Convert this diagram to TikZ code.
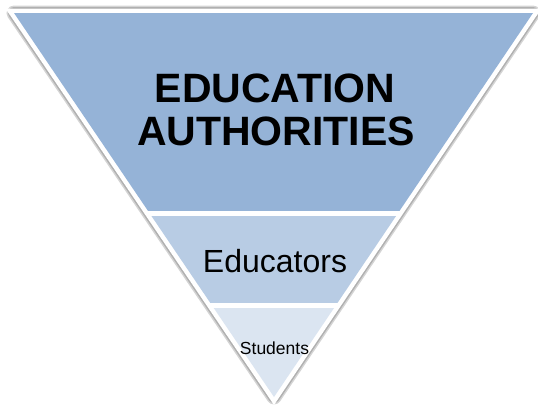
\documentclass[tikz,border=0pt]{standalone}
\usepackage{fontspec}
\setmainfont{Liberation Sans}
\definecolor{bandA}{HTML}{95B3D7}
\definecolor{bandB}{HTML}{B8CCE4}
\definecolor{bandC}{HTML}{DBE5F1}
\begin{document}
\begin{tikzpicture}[x=1pt,y=-1pt,
  lbl/.style={inner sep=0pt,anchor=base,text=black}]
\useasboundingbox (0,0) rectangle (538,405);
\coordinate (tl) at (14,13);
\coordinate (tr) at (533,13);
\coordinate (ap) at (274,397);
% shadow
\begin{scope}[shift={(7,4)}]
  \foreach \w in {15,12,9,6} {
    \draw[black,opacity=0.17,line width=\w pt,line join=round]
      (tl) -- (tr) -- (ap) -- cycle;
  }
\end{scope}
% white outline
\filldraw[white,line width=9pt,line join=miter] (tl) -- (tr) -- (ap) -- cycle;
% bands
\begin{scope}
  \clip (tl) -- (tr) -- (ap) -- cycle;
  \fill[bandA] (0,13) rectangle (538,211);
  \fill[bandB] (0,216) rectangle (538,303);
  \fill[bandC] (0,308) rectangle (538,400);
\end{scope}
\node[lbl,font=\fontsize{41}{43}\selectfont\bfseries] (edu) at (275,102) {EDUCATION};
\node[lbl,font=\fontsize{41}{43}\selectfont\bfseries] (auth) at (276,145) {AUTHORITIES};
\node[lbl,font=\fontsize{32}{34}\selectfont] (educ) at (275,272) {Educators};
\node[lbl,font=\fontsize{17.5}{19}\selectfont] (stud) at (274.5,354) {Students};
\end{tikzpicture}
\end{document}
